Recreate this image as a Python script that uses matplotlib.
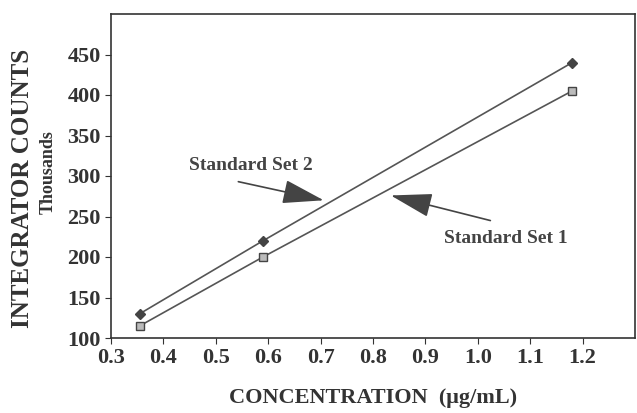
import matplotlib
matplotlib.use('Agg')
import matplotlib.pyplot as plt

# 데이터
conc = [0.355, 0.59, 1.18]
set2_counts = [130, 220, 440]
set1_counts = [115, 200, 405]
x_ticks = [0.3, 0.4, 0.5, 0.6, 0.7, 0.8, 0.9, 1.0, 1.1, 1.2]
y_ticks = [100, 150, 200, 250, 300, 350, 400, 450]

matplotlib.rc('font', family='Liberation Serif', weight='bold')

fig = plt.figure(figsize=(6.37, 4.13), dpi=100)
ax = fig.add_axes([111 / 637, 1 - 338 / 413, 524 / 637, 324 / 413])

line_col = '#555555'
ax.plot(conc, set2_counts, color=line_col, lw=1.2, marker='D', ms=5,
        mfc='#444444', mec='#444444')
ax.plot(conc, set1_counts, color=line_col, lw=1.2, marker='s', ms=6,
        mfc='#bbbbbb', mec='#444444')

ax.set_xlim(0.3, 1.3)
ax.set_ylim(100, 500)
ax.set_xticks(x_ticks)
ax.set_xticklabels([f'{v:.1f}' for v in x_ticks])
ax.set_yticks(y_ticks)
ax.tick_params(direction='out', length=4, labelsize=16, colors='#333333')
for s in ax.spines.values():
    s.set_color('#333333')
    s.set_linewidth(1.2)

ax.set_xlabel('CONCENTRATION  (\u03bcg/mL)', fontsize=16, fontweight='bold',
              color='#333333', labelpad=14)
fig.text(0.036, 0.545, 'INTEGRATOR COUNTS', rotation=90, fontsize=18,
         ha='center', va='center', color='#333333')
fig.text(0.075, 0.584, 'Thousands', rotation=90, fontsize=13,
         ha='center', va='center', color='#333333')

# 주석 텍스트
ax.text(0.566, 313, 'Standard Set 2', fontsize=14, ha='center', va='center', color='#444444')
ax.text(1.053, 223, 'Standard Set 1', fontsize=14, ha='center', va='center', color='#444444')

arrow = dict(arrowstyle='-|>,head_length=2.6,head_width=0.75', color='#444444', lw=1.2,
             shrinkA=0, shrinkB=0)
ax.annotate('', xy=(0.706, 270), xytext=(0.543, 293), arrowprops=arrow)
ax.annotate('', xy=(0.834, 276), xytext=(1.024, 245), arrowprops=arrow)

plt.savefig('out.png', dpi=100)
